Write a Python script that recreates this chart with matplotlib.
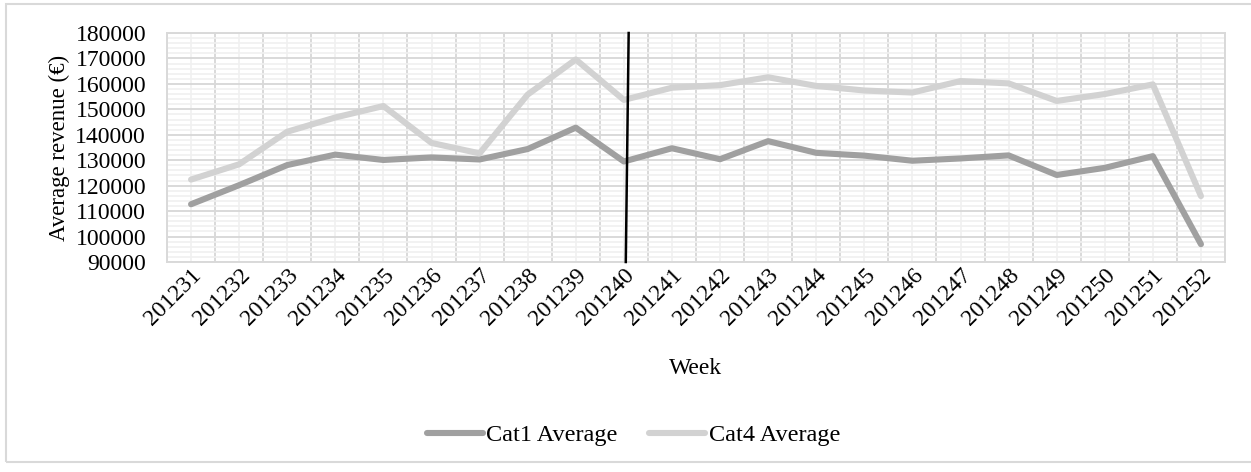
import numpy as np
import matplotlib
matplotlib.use("Agg")
import matplotlib.pyplot as plt
from matplotlib.ticker import MultipleLocator, FixedLocator
from matplotlib.patches import Rectangle

weeks = ["201231", "201232", "201233", "201234", "201235", "201236", "201237",
         "201238", "201239", "201240", "201241", "201242", "201243", "201244",
         "201245", "201246", "201247", "201248", "201249", "201250", "201251",
         "201252"]
cat1_avg = [112700, 120200, 128100, 132200, 130100, 131100, 130300, 134400,
            142800, 129500, 134700, 130400, 137500, 132900, 131800, 129800,
            130700, 131900, 124200, 127000, 131600, 97000]
cat4_avg = [122400, 128400, 141200, 146800, 151300, 136800, 132700, 155800,
            169600, 153700, 158500, 159500, 162600, 159200, 157400, 156600,
            161100, 160200, 153300, 156000, 159800, 115900]
marker_week = "201240"

plt.rcParams["font.family"] = ["Liberation Serif", "DejaVu Serif"]

fig = plt.figure(figsize=(12.51, 4.72), dpi=100)
fig.patches.append(Rectangle((5.5 / 1251, 1 - 462 / 472), 1.2, (462 - 4) / 472,
                             transform=fig.transFigure, fill=False,
                             edgecolor="#d9d9d9", linewidth=1.5, zorder=0))

ax = fig.add_axes([167 / 1251, 1 - 262 / 472, (1225 - 167) / 1251, (262 - 33) / 472])

x = np.arange(len(weeks))
ax.plot(x, cat1_avg, color="#a0a0a0", linewidth=4.4, solid_capstyle="round",
        solid_joinstyle="round", label="Cat1 Average", zorder=3)
ax.plot(x, cat4_avg, color="#d2d2d2", linewidth=4.4, solid_capstyle="round",
        solid_joinstyle="round", label="Cat4 Average", zorder=3)

# vertical divider at the marker week
mi = weeks.index(marker_week)
ax.plot([mi + 0.04, mi + 0.1], [90000, 180000], color="black", linewidth=1.8,
        zorder=4, clip_on=False)

ax.set_xlim(-0.5, len(weeks) - 0.5)
ax.set_ylim(90000, 180000)

# category boundaries as major grid, centres carry the labels
ax.xaxis.set_major_locator(FixedLocator(np.arange(-0.5, len(weeks))))
ax.xaxis.set_major_formatter(plt.NullFormatter())
ax.set_xticks(x, minor=True)
ax.set_xticklabels(weeks, minor=True, rotation=45, ha="right", va="top",
                   rotation_mode="anchor", fontsize=17)
ax.yaxis.set_major_locator(MultipleLocator(10000))
ax.yaxis.set_minor_locator(MultipleLocator(2000))
ax.tick_params(axis="both", which="both", length=0)
ax.tick_params(axis="x", which="minor", pad=2)
ax.tick_params(axis="y", which="major", pad=15, labelsize=17)

ax.grid(True, which="major", color="#d9d9d9", linewidth=1.4, zorder=0)
ax.grid(True, which="minor", color="#f0f0f0", linewidth=1.2, zorder=0)
ax.set_axisbelow(True)
for s in ax.spines.values():
    s.set_color("#d9d9d9")
    s.set_linewidth(1.4)

ax.set_xlabel("Week", fontsize=17, labelpad=20)
ax.set_ylabel("Average revenue (\u20ac)", fontsize=16.5, labelpad=4)

fig.legend(loc="center", bbox_to_anchor=(0.5 + 8 / 1251, 1 - 435 / 472), ncol=2,
           frameon=False, fontsize=17.5, handlelength=2.3, handletextpad=0.15,
           columnspacing=1.3)

fig.savefig("out.png", dpi=100)
